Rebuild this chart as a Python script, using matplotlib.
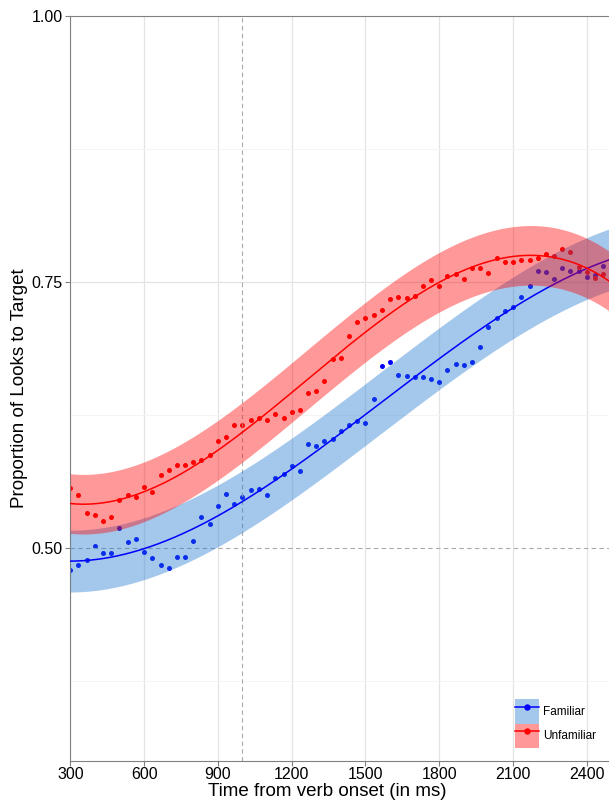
import numpy as np
import matplotlib
matplotlib.use('Agg')
import matplotlib.pyplot as plt
from matplotlib.patches import Patch
from matplotlib.lines import Line2D
from matplotlib.legend_handler import HandlerTuple

plt.rcParams['font.family'] = ['Liberation Sans', 'DejaVu Sans']

# time bins (ms from verb onset), one point per 33 ms
time_ms = [300, 333, 367, 400, 433, 467, 500, 533, 567, 600,
           633, 667, 700, 733, 767, 800, 833, 867, 900, 933,
           967, 1000, 1033, 1067, 1100, 1133, 1167, 1200, 1233, 1267,
           1300, 1333, 1367, 1400, 1433, 1467, 1500, 1533, 1567, 1600,
           1633, 1667, 1700, 1733, 1767, 1800, 1833, 1867, 1900, 1933,
           1967, 2000, 2033, 2067, 2100, 2133, 2167, 2200, 2233, 2267,
           2300, 2333, 2367, 2400, 2433, 2467]

# observed proportion of looks to target
familiar = [0.4798, 0.4845, 0.4889, 0.5017, 0.4955, 0.4955, 0.5186, 0.5055, 0.5083, 0.4964,
            0.4908, 0.4845, 0.4817, 0.4917, 0.4917, 0.5067, 0.5287, 0.5225, 0.5396, 0.5511,
            0.5414, 0.5477, 0.5543, 0.5552, 0.5496, 0.5662, 0.5696, 0.5768, 0.5724, 0.5974,
            0.5956, 0.6003, 0.6026, 0.6100, 0.6152, 0.6190, 0.6171, 0.6403, 0.6706, 0.6750,
            0.6622, 0.6619, 0.6603, 0.6604, 0.6586, 0.6559, 0.6674, 0.6725, 0.6722, 0.6749,
            0.6890, 0.7076, 0.7157, 0.7223, 0.7263, 0.7360, 0.7463, 0.7604, 0.7592, 0.7523,
            0.7635, 0.7598, 0.7598, 0.7542, 0.7567, 0.7645]
unfamiliar = [0.5565, 0.5496, 0.5330, 0.5314, 0.5252, 0.5292, 0.5449, 0.5502, 0.5483, 0.5571,
              0.5527, 0.5683, 0.5730, 0.5777, 0.5780, 0.5805, 0.5824, 0.5872, 0.6009, 0.6043,
              0.6153, 0.6156, 0.6206, 0.6218, 0.6206, 0.6256, 0.6222, 0.6275, 0.6297, 0.6459,
              0.6475, 0.6572, 0.6772, 0.6788, 0.6991, 0.7122, 0.7163, 0.7185, 0.7235, 0.7338,
              0.7357, 0.7351, 0.7370, 0.7459, 0.7513, 0.7459, 0.7559, 0.7573, 0.7530, 0.7635,
              0.7635, 0.7582, 0.7727, 0.7686, 0.7686, 0.7707, 0.7707, 0.7727, 0.7763, 0.7746,
              0.7808, 0.7782, 0.7637, 0.7597, 0.7535, 0.7575]

conditions = ['Familiar', 'Unfamiliar']
x_ticks = [300, 600, 900, 1200, 1500, 1800, 2100, 2400]
y_ticks = [0.50, 0.75, 1.00]
y_minor = [0.375, 0.625, 0.875]
ribbon_half = [0.029, 0.028]   # half width of model ribbon

point_cols = ['#0000FF', '#FF0000']
ribbon_cols = [(28/255, 117/255, 208/255), (1.0, 0.0, 0.0)]

fig = plt.figure(figsize=(6.09, 8.0), dpi=100)
ax = fig.add_axes([70.3/609, 39/800, 1 - 70.3/609, (761 - 15.7)/800])
ax.set_xlim(300, 2490)
ax.set_ylim(0.30, 1.00)

# grid
for x in x_ticks:
    ax.axvline(x, color='#E4E4E4', lw=0.9, zorder=0)
ax.axhline(0.75, color='#E4E4E4', lw=0.9, zorder=0)
for y in y_minor:
    ax.axhline(y, color='#F4F4F4', lw=0.7, zorder=0)

t = np.array(time_ms)
series = [np.array(familiar), np.array(unfamiliar)]

# observed points first
for vals, pc in zip(series, point_cols):
    ax.scatter(t, vals, s=13, color=pc, linewidths=0, zorder=2)

# reference lines
ax.axvline(1000, color='#AAAAAA', lw=0.8, ls=(0, (4, 3)), zorder=3)
ax.axhline(0.50, color='#AAAAAA', lw=0.8, ls=(0, (4, 3)), zorder=3)

# model fits (cubic growth curve) with ribbons
tt = np.linspace(300, 2490, 400)
z = 4
for vals, pc, rc, hw in zip(series, point_cols, ribbon_cols, ribbon_half):
    coef = np.polyfit(t, vals, 3)
    fit = np.polyval(coef, tt)
    ax.fill_between(tt, fit - hw, fit + hw, color=rc, alpha=0.4, linewidth=0, zorder=z)
    ax.plot(tt, fit, color=pc, lw=1.1, zorder=z + 1)
    z += 2

# axes styling
ax.set_xticks(x_ticks)
ax.set_yticks(y_ticks)
ax.set_yticklabels(['%.2f' % y for y in y_ticks])
for s in ['left', 'bottom', 'top']:
    ax.spines[s].set_color('#808080')
    ax.spines[s].set_linewidth(0.8)
ax.spines['right'].set_visible(False)
ax.tick_params(axis='both', colors='#808080', labelcolor='black', labelsize=11.5,
               length=3.5, width=0.8)
ax.tick_params(axis='x', pad=1)
ax.tick_params(axis='y', pad=2)

ax.set_xlabel('Time from verb onset (in ms)', fontsize=13.5)
ax.xaxis.set_label_coords((327 - 70.3)/538.7, -(791 - 761)/745.3)
ax.xaxis.label.set_va('center')
ax.set_ylabel('Proportion of Looks to Target', fontsize=13.5)
ax.yaxis.set_label_coords(-(70.3 - 20)/538.7, 0.5)
ax.yaxis.label.set_va('center')

# legend: ribbon box with line and point drawn on top of each other
handles = []
for pc, rc in zip(point_cols, ribbon_cols):
    box = Patch(facecolor=rc, alpha=0.4, edgecolor='none')
    ln = Line2D([], [], color=pc, lw=1.1, marker='o', markersize=3.6)
    handles.append((box, ln))
fig.legend(handles, conditions, handler_map={tuple: HandlerTuple(ndivide=1, pad=0)},
           loc='lower left', bbox_to_anchor=(515/609, (800 - 748)/800),
           frameon=False, fontsize=8.5, borderpad=0, borderaxespad=0,
           handlelength=2.0, handleheight=2.8, labelspacing=0, handletextpad=0.35)

fig.savefig('out.png', dpi=100)
